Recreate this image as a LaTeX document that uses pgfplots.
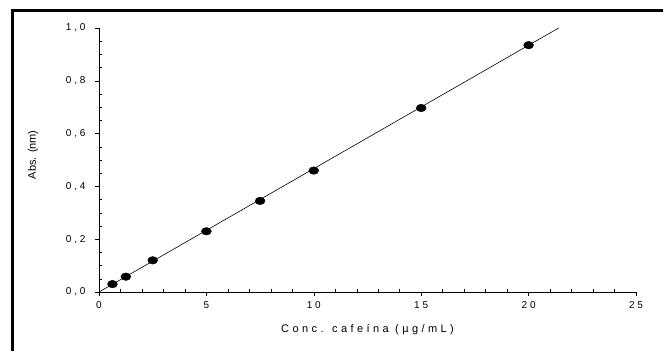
\documentclass[border=0pt]{standalone}
\usepackage{fontspec}
\setmainfont{Liberation Sans}
\newfontfamily\labfont[LetterSpace=31]{Liberation Sans}
\newfontfamily\tickfont[LetterSpace=28]{Liberation Sans}
\usepackage{pgfplots}
\pgfplotsset{compat=1.18}
\begin{document}
\begin{tikzpicture}
\useasboundingbox (-99bp,-59bp) rectangle (564bp,292bp);
\draw[line width=3bp] (-86bp,-70bp) -- (-86bp,281bp) -- (580bp,281bp);
\begin{axis}[
  at={(0,0)}, anchor=origin,
  scale only axis,
  width=537bp, height=264bp,
  xmin=0, xmax=25, ymin=0, ymax=1,
  axis x line=bottom, axis y line=left,
  axis line style={-, line width=0.8pt},
  xtick={0,5,10,15,20,25},
  ytick={0,0.2,0.4,0.6,0.8,1.0},
  minor x tick num=4,
  minor y tick num=3,
  tick align=outside,
  major tick length=4bp,
  minor tick length=-3bp,
  tick style={black, line width=0.5pt},
  /pgf/number format/assume math mode=true,
  /pgf/number format/use comma,
  yticklabel style={/pgf/number format/fixed, /pgf/number format/fixed zerofill, /pgf/number format/precision=1},
  tick label style={font=\tickfont\fontsize{10bp}{12bp}\selectfont},
  xticklabel style={yshift=-2bp},
  yticklabel style={xshift=-6bp},
  xlabel={Conc. cafeína (µg/mL)},
  ylabel={Abs. (nm)},
  xlabel style={font=\labfont\fontsize{11bp}{13bp}\selectfont, at={(axis description cs:0.5,-0.144)}, anchor=center},
  ylabel style={font=\fontsize{11bp}{13bp}\selectfont, at={(axis description cs:-0.123,0.52)}, anchor=center},
  clip=false,
]
\addplot[black, line width=0.6pt] coordinates {(0,0) (21.4,1.0)};
\addplot[only marks, mark=*, mark size=3.8bp, mark options={xscale=1.3, fill=black, draw=black}] coordinates {
(0.625,0.030) (1.25,0.058) (2.5,0.120) (5,0.230) (7.5,0.345) (10,0.460) (15,0.697) (20,0.935)
};
\end{axis}
\end{tikzpicture}
\end{document}
